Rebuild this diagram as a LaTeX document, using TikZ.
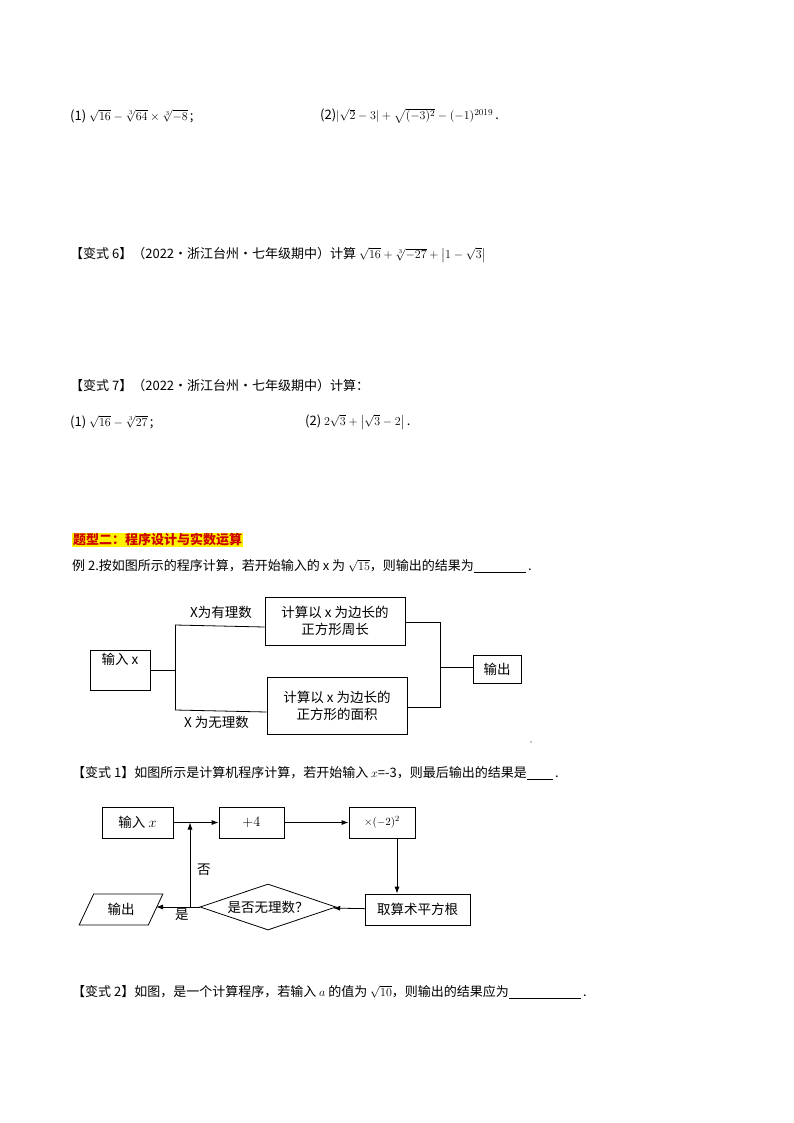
\documentclass[tikz,border=0pt]{standalone}
\usepackage{fontspec}
\usepackage{amsmath}
\setmainfont{Noto Sans CJK SC}
\usetikzlibrary{shapes.geometric,arrows.meta}
\begin{document}
\begin{tikzpicture}[x=1pt,y=-1pt,
  txt/.style={anchor=west,inner sep=0pt,font=\fontsize{13}{15}\selectfont},
  bx/.style={draw,thick,inner sep=0pt,font=\fontsize{13.5}{17}\selectfont,align=center},
  ln/.style={thick},
  ar/.style={thick,-{Latex[length=7pt,width=5pt]}}]
\useasboundingbox (0,0) rectangle (794,1123);
\node[txt] (t1) at (70,116) {(1) $\sqrt{16}-\sqrt[3]{64}\times\sqrt[3]{-8}$\,;};
\node[txt] (t2) at (320,116) {(2)$|\sqrt{2}-3|+\sqrt{(-3)^2}-(-1)^{2019}$\,.};
\node[txt] (t3) at (70,255) {【变式 6】（2022·浙江台州·七年级期中）计算 $\sqrt{16}+\sqrt[3]{-27}+\left|1-\sqrt{3}\right|$};
\node[txt] (t4) at (70,386) {【变式 7】（2022·浙江台州·七年级期中）计算：};
\node[txt] (t5) at (70,422) {(1) $\sqrt{16}-\sqrt[3]{27}$\,;};
\node[txt] (t6) at (305,422) {(2) $2\sqrt{3}+\left|\sqrt{3}-2\right|$\,.};
\node[txt,fill=yellow,text=red!80!black,inner sep=1pt] (t7) at (72,540) {\textbf{题型二：程序设计与实数运算}};
\node[txt] (t8) at (72,566) {例 2.按如图所示的程序计算，若开始输入的 x 为 $\sqrt{15}$，则输出的结果为\underline{\hspace{52pt}}\,.};
% flowchart 1
\node[bx,minimum width=60,minimum height=40] (in1) at (120,670) {输入 x\\[6pt]};
\node[bx,minimum width=140,minimum height=48] (b1) at (335,621) {计算以 x 为边长的\\正方形周长};
\node[bx,minimum width=140,minimum height=57] (b2) at (337,706) {计算以 x 为边长的\\正方形的面积};
\node[bx,minimum width=48,minimum height=28] (o1) at (497,669) {输出};
\coordinate (s1) at (175,625); \coordinate (s2) at (175,710);
\coordinate (r1) at (440,622); \coordinate (r2) at (440,707); \coordinate (rm) at (440,667);
\draw[ln] (in1.east) -- (175,670);
\draw[ln] (s1) -- (s2);
\draw[ln] (s1) -- (b1.west |- 0,627);
\draw[ln] (s2) -- (b2.west |- 0,712);
\draw[ln] (b1.east |- r1) -- (r1) -- (r2) -- (b2.east |- r2);
\draw[ln] (rm) -- (o1.west |- rm);
\node[txt,font=\fontsize{13.5}{15}\selectfont] (l1) at (190,612) {X为有理数};
\node[txt,font=\fontsize{13.5}{15}\selectfont] (l2) at (184,722) {X 为无理数};
\node[inner sep=0.5pt,fill=black,circle] (dot) at (531,742) {};
% text
\node[txt] (t9) at (72,773) {【变式 1】如图所示是计算机程序计算，若开始输入 $x$=-3，则最后输出的结果是\underline{\hspace{26pt}}\,.};
% flowchart 2
\node[bx,minimum width=71,minimum height=31] (in2) at (137.5,822.5) {输入 $x$};
\node[bx,minimum width=65,minimum height=31] (p4) at (251.5,822.5) {$+4$};
\node[bx,minimum width=66,minimum height=31,font=\fontsize{11}{13}\selectfont] (m2) at (382,822.5) {$\times(-2)^2$};
\node[bx,minimum width=105,minimum height=31] (sq) at (417.5,909.5) {取算术平方根};
\node[bx,diamond,aspect=3.2,minimum width=136,minimum height=46] (dm) at (268,907) {是否无理数？};
\node[bx,trapezium,trapezium left angle=60,trapezium right angle=120,minimum width=84,minimum height=31,trapezium stretches=true] (o2) at (121,909.5) {输出};
\coordinate (fb) at (190,907);
\draw[ar] (in2) -- (p4);
\draw[ar] (p4) -- (m2);
\draw[ar] (m2.south -| 397,0) -- (sq.north -| 397,0);
\draw[ar] (sq) -- (dm);
\draw[ar] (dm.west) -- (o2.east |- dm.west);
\draw[ar] (fb) -- (190,822.5);
\node[txt,font=\fontsize{13.5}{15}\selectfont] (no) at (197,870) {否};
\node[txt,font=\fontsize{13.5}{15}\selectfont] (yes) at (175,915) {是};
\node[txt] (t10) at (72,992) {【变式 2】如图，是一个计算程序，若输入 $a$ 的值为 $\sqrt{10}$，则输出的结果应为\underline{\hspace{72pt}}\,.};
\end{tikzpicture}
\end{document}
